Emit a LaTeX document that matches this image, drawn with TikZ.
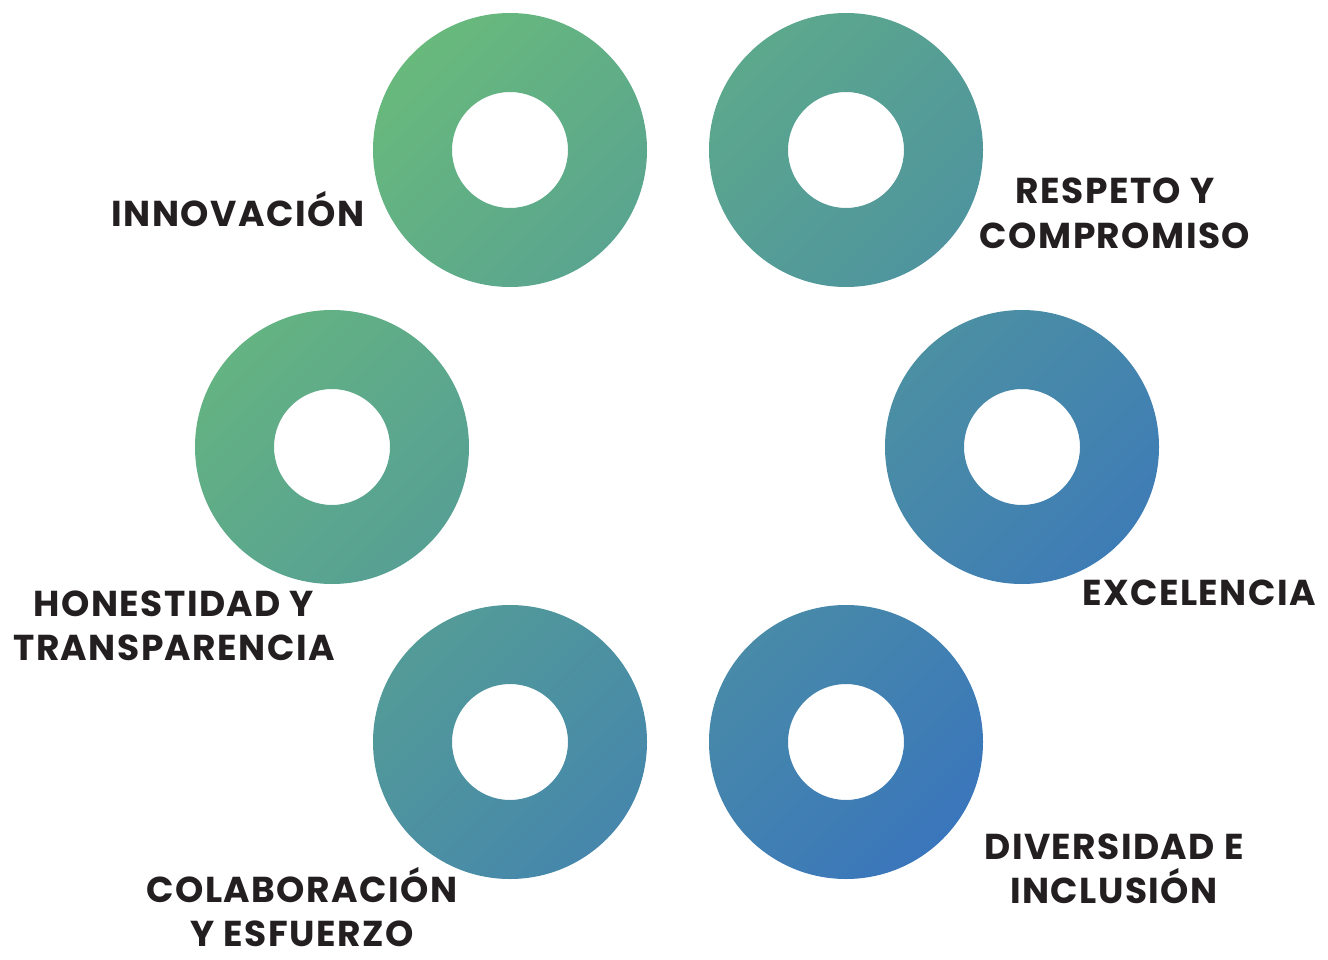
\documentclass[tikz,border=0pt]{standalone}
\usepackage{fontspec}
\setmainfont{Poppins}[LetterSpace=4]
\definecolor{ringG}{RGB}{104,185,124}
\definecolor{ringB}{RGB}{58,118,187}
\definecolor{txt}{RGB}{35,31,32}
\begin{document}
\begin{tikzpicture}[x=1pt,y=-1pt,
  ring/.style={even odd rule, shading angle=45},
  lbl/.style={font=\fontsize{36}{44}\selectfont\bfseries, text=txt, align=center, inner sep=0pt, text depth=0pt, anchor=base}]
\useasboundingbox (0,0) rectangle (1328,960);
\coordinate (c1) at (510,150);
\coordinate (c2) at (846,150);
\coordinate (c3) at (1022,447);
\coordinate (c4) at (846,742);
\coordinate (c5) at (510,742);
\coordinate (c6) at (332,447);
\shade[ring, top color=ringG, bottom color=ringB!30!ringG, shading angle=45] (c1) circle[radius=137] (c1) circle[radius=58];
\shade[ring, top color=ringB!25!ringG, bottom color=ringB!55!ringG, shading angle=45] (c2) circle[radius=137] (c2) circle[radius=58];
\shade[ring, top color=ringB!62!ringG, bottom color=ringB!91!ringG, shading angle=45] (c3) circle[radius=137] (c3) circle[radius=58];
\shade[ring, top color=ringB!70!ringG, bottom color=ringB, shading angle=45] (c4) circle[radius=137] (c4) circle[radius=58];
\shade[ring, top color=ringB!45!ringG, bottom color=ringB!75!ringG, shading angle=45] (c5) circle[radius=137] (c5) circle[radius=58];
\shade[ring, top color=ringB!9!ringG, bottom color=ringB!38!ringG, shading angle=45] (c6) circle[radius=137] (c6) circle[radius=58];
\node[lbl] (t1) at (238,227) {INNOVACIÓN};
\node[lbl] (t2) at (1115,248) {RESPETO Y\\COMPROMISO};
\node[lbl] (t3) at (1199,605) {EXCELENCIA};
\node[lbl] (t4) at (1114,903) {DIVERSIDAD E\\INCLUSIÓN};
\node[lbl] (t5) at (302,946) {COLABORACIÓN\\Y ESFUERZO};
\node[lbl] (t6) at (174,660) {HONESTIDAD Y\\TRANSPARENCIA};
\end{tikzpicture}
\end{document}
